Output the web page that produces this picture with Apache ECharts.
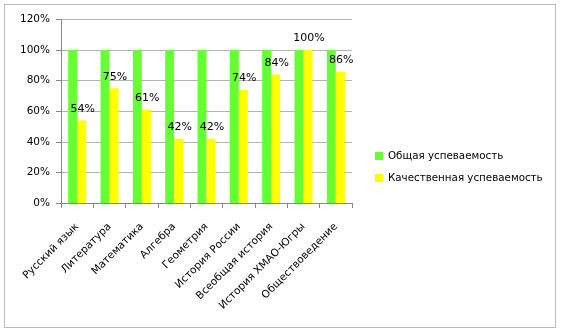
<!DOCTYPE html>
<html><head><meta charset="utf-8">
<script src="https://cdn.jsdelivr.net/npm/echarts@6/dist/echarts.min.js"></script>
<style>html,body{margin:0;padding:0;background:#fff}#c{width:562px;height:334px}
#f{position:absolute;left:4px;top:4px;width:552px;height:324px;border:1px solid #bcbcbc;box-sizing:border-box;pointer-events:none}</style>
</head><body><div id="c"></div><div id="f"></div>
<script>
const categories = ['Русский язык','Литература','Математика','Алгебра','Геометрия','История России','Всеобщая история','История ХМАО-Югры','Обществоведение'];
const overall = [100,100,100,100,100,100,100,100,100];
const quality = [54,75,61,42,42,74,84,100,86];
const yTicks = [0,20,40,60,80,100,120];
const seriesNames = ['Общая успеваемость','Качественная успеваемость'];
const FONT = 'DejaVu Sans';
const chart = echarts.init(document.getElementById('c'));
chart.setOption({
  animation:false,
  textStyle:{fontFamily:FONT},
  grid:{left:61,right:210,top:19.5,bottom:131},
  legend:{
    orient:'vertical',left:370,top:146,itemWidth:8,itemHeight:8,itemGap:12,
    icon:'rect',
    textStyle:{fontFamily:FONT,fontSize:10.3,color:'#000'},
    data:seriesNames
  },
  xAxis:{
    type:'category',data:categories,
    axisLine:{lineStyle:{color:'#868686'}},
    axisTick:{show:true,length:5,lineStyle:{color:'#868686'}},
    axisLabel:{rotate:45,interval:0,margin:22,fontFamily:FONT,fontSize:10.5,color:'#000'}
  },
  yAxis:{
    type:'value',min:yTicks[0],max:yTicks[yTicks.length-1],interval:20,
    axisLine:{show:true,lineStyle:{color:'#868686'}},
    axisTick:{show:true,inside:false,length:5,lineStyle:{color:'#868686'}},
    splitLine:{lineStyle:{color:'#b3b3b3'}},
    axisLabel:{formatter:v=>v+'%',fontFamily:FONT,fontSize:10.5,color:'#000',margin:11}
  },
  series:[
    {name:seriesNames[0],type:'bar',data:overall,barWidth:9,barGap:'0%',itemStyle:{color:'#66ff33'}},
    {name:seriesNames[1],type:'bar',data:quality,barWidth:9,itemStyle:{color:'#ffff00'},
     label:{show:true,position:'top',distance:6,formatter:p=>p.value+'%',fontFamily:FONT,fontSize:11,color:'#000',offset:[1,0]}}
  ]
});
</script></body></html>
